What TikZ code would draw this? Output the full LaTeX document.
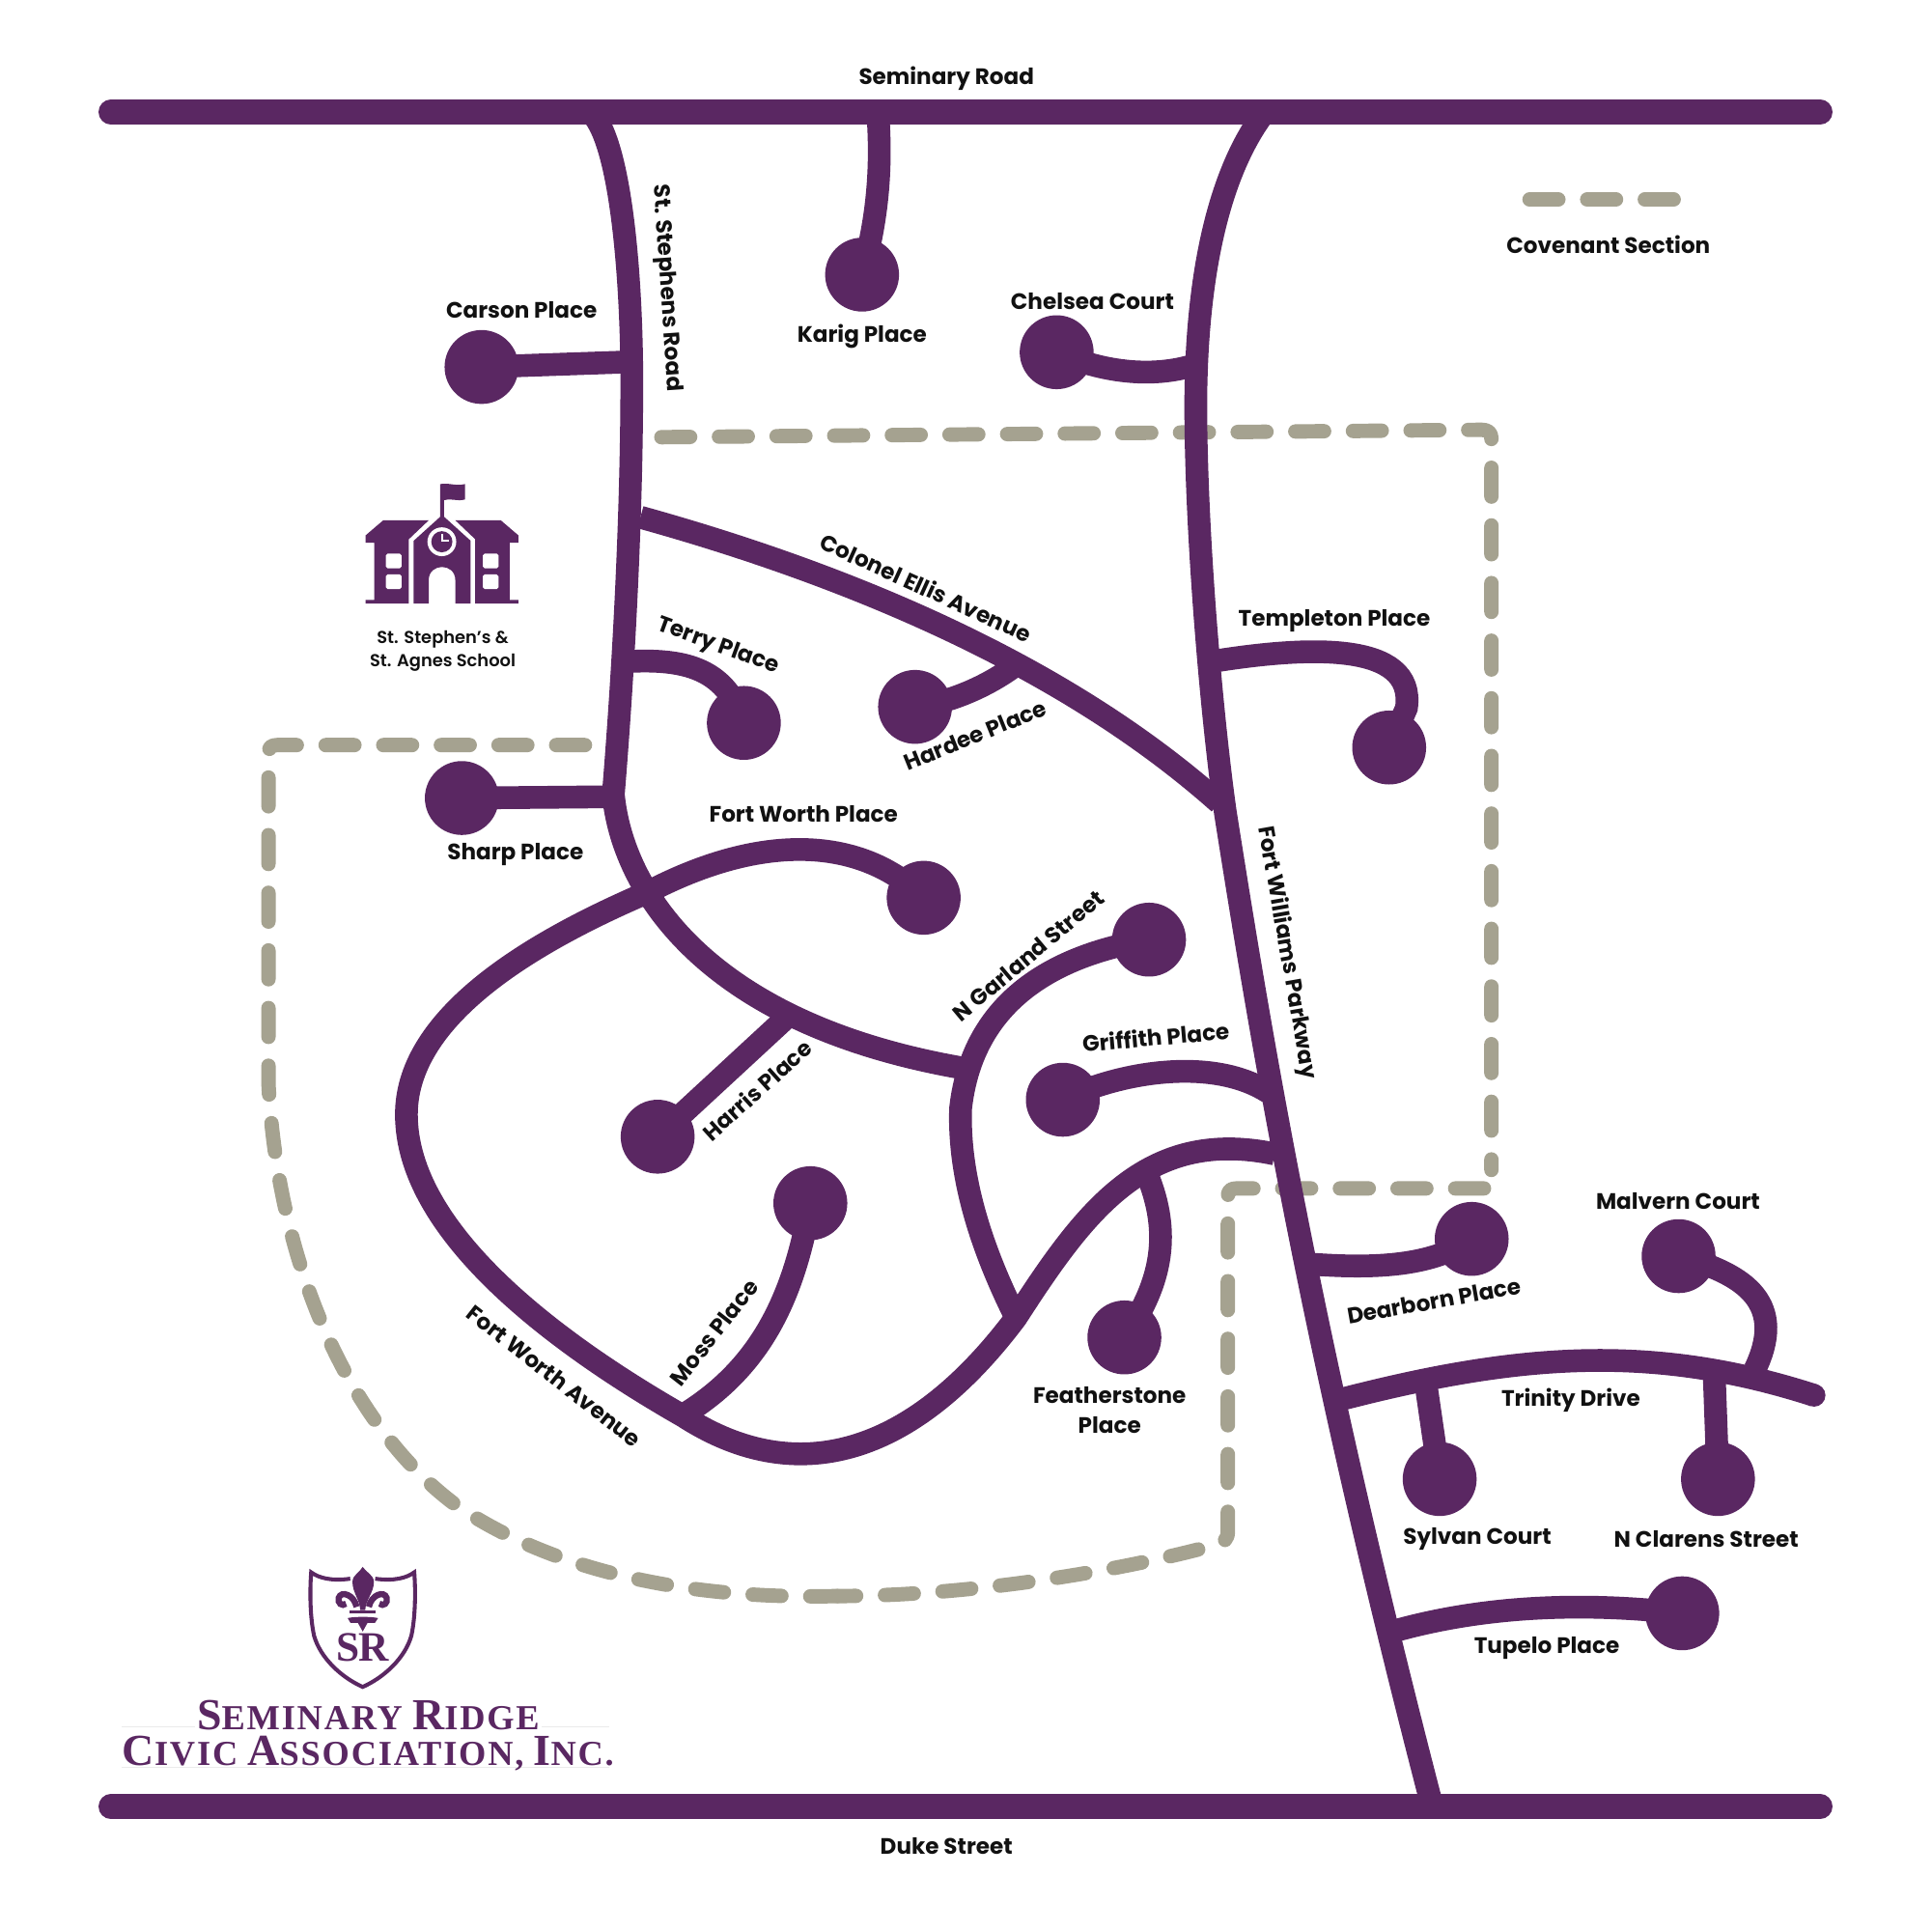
\documentclass[tikz,border=0pt]{standalone}
\usepackage{fontspec}
\setmainfont{Poppins}[UprightFont=* SemiBold,BoldFont=* Bold]
\newfontfamily\logofont{Liberation Serif}[UprightFont=* Bold,LetterSpace=5]
\definecolor{srpurple}{HTML}{5A2762}
\definecolor{srgrey}{HTML}{A5A290}
\definecolor{srtext}{HTML}{111111}
\newcommand{\smc}[2]{{\fontsize{#1}{#1}\selectfont #2}}
\tikzset{
  road/.style={draw=srpurple,line width=18.5pt},
  mainroad/.style={draw=srpurple,line width=20pt,line cap=round},
  dot/.style={circle,fill=srpurple,minimum size=60pt,inner sep=0pt},
  covenant/.style={draw=srgrey,line width=11.7pt,line cap=round,line join=round,dash pattern=on 23.4pt off 23.4pt},
  lab/.style={font=\bfseries\fontsize{18.1}{24}\selectfont,text=srtext,inner sep=0pt,align=center},
  smalllab/.style={font=\fontsize{14}{19}\selectfont,text=srtext,inner sep=0pt,align=center},
}
\begin{document}
\begin{tikzpicture}[x=1pt,y=-1pt]
\fill[white] (0,0) rectangle (1568,1568);
\useasboundingbox (0,0) rectangle (1568,1568);
% dots
\node[dot] (karig) at (700,223) {};
\node[dot] (carson) at (391,298) {};
\node[dot] (chelsea) at (858,286) {};
\node[dot] (templeton) at (1128,607) {};
\node[dot] (terry) at (604,587) {};
\node[dot] (hardee) at (743,574) {};
\node[dot] (sharp) at (375,648) {};
\node[dot] (fortworth) at (750,729) {};
\node[dot] (garland) at (933,763) {};
\node[dot] (griffith) at (863,893) {};
\node[dot] (harris) at (534,923) {};
\node[dot] (moss) at (658,977) {};
\node[dot] (feather) at (913,1086) {};
\node[dot] (dearborn) at (1195,1006) {};
\node[dot] (malvern) at (1363,1020) {};
\node[dot] (sylvan) at (1169,1201) {};
\node[dot] (clarens) at (1395,1201) {};
\node[dot] (tupelo) at (1366,1310) {};
% covenant dashes
\draw[covenant] (537,355) -- (1203,349) .. controls (1208,349) and (1211,351) .. (1211,356) -- (1211,950);
\draw[covenant] (1205,965) -- (1004,965) .. controls (999,965) and (997,967) .. (997,972) -- (997,1243) .. controls (997,1250) and (995,1252) .. (985,1255) .. controls (900,1278) and (780,1296) .. (680,1296);
\draw[covenant] (475,605) -- (225,605) .. controls (220,605) and (218,607) .. (218,612) -- (218,880) .. controls (225,1020) and (280,1155) .. (370,1222) .. controls (470,1290) and (600,1298) .. (680,1296);
\draw[covenant] (1242,162) -- (1364,162);
% roads
\draw[mainroad] (90,91) -- (1478,91);
\draw[mainroad] (90,1467) -- (1478,1467);
\draw[road] (483,95) .. controls (505,125) and (513,230) .. (513,310) .. controls (513,430) and (505,560) .. (498,645) .. controls (505,720) and (570,830) .. (780,867);
\draw[road] (1024,95) .. controls (985,150) and (970,240) .. (971,340) .. controls (972,450) and (985,590) .. (995,660) .. controls (1025,850) and (1065,1090) .. (1163,1467);
\draw[road] (520,420) .. controls (700,470) and (870,545) .. (990,652);
\draw[road] (513,537) .. controls (560,535) and (590,545) .. (terry.center);
\draw[road] (hardee.center) .. controls (775,570) and (805,555) .. (825,540);
\draw[road] (sharp.center) -- (495,647);
\draw[road] (carson.center) -- (507,294);
\draw[road] (karig.center) .. controls (712,180) and (716,140) .. (713,95);
\draw[road] (chelsea.center) .. controls (890,300) and (930,308) .. (968,297);
\draw[road] (985,537) .. controls (1060,525) and (1150,520) .. (1142,575) -- (templeton.center);
\draw[road] (fortworth.center) .. controls (700,680) and (620,675) .. (525,725) .. controls (420,770) and (330,830) .. (330,905) .. controls (330,1000) and (450,1090) .. (555,1150) .. controls (640,1205) and (735,1190) .. (825,1070) .. controls (880,985) and (930,915) .. (1035,937);
\draw[road] (garland.center) .. controls (860,775) and (790,810) .. (780,900) .. controls (778,960) and (800,1020) .. (825,1070);
\draw[road] (griffith.center) .. controls (910,870) and (985,858) .. (1030,887);
\draw[road] (harris.center) -- (640,825);
\draw[road] (moss.center) .. controls (645,1050) and (620,1110) .. (553,1150);
\draw[road] (feather.center) .. controls (945,1040) and (950,1000) .. (932,955);
\draw[road] (dearborn.center) .. controls (1160,1030) and (1110,1030) .. (1058,1026);
\draw[road] (1090,1136) .. controls (1230,1100) and (1340,1090) .. (1473,1133);
\fill[srpurple] (1473,1133) circle[radius=9.25];
\draw[road] (malvern.center) .. controls (1420,1035) and (1450,1060) .. (1425,1112);
\draw[road] (sylvan.center) -- (1158,1125);
\draw[road] (clarens.center) -- (1392,1118);
\draw[road] (tupelo.center) .. controls (1280,1300) and (1200,1305) .. (1130,1325);
% labels
\node[lab] (l1) at (768.5,64) {Seminary Road};
\node[lab] (l2) at (768.5,1499) {Duke Street};
\node[lab,rotate=-86] (l3) at (541,234) {St. Stephens Road};
\node[lab] (l4) at (700,273) {Karig Place};
\node[lab] (l5) at (423.5,251.5) {Carson Place};
\node[lab] (l6) at (887,245) {Chelsea Court};
\node[lab] (l7) at (1306,199) {Covenant Section};
\node[lab,rotate=-24.5] (l8) at (752,477) {Colonel Ellis Avenue};
\node[lab] (l9) at (1083.5,504) {Templeton Place};
\node[lab,rotate=-20] (l10) at (583,525) {Terry Place};
\node[lab,rotate=22] (l11) at (792,597) {Hardee Place};
\node[lab] (l12) at (652.5,661) {Fort Worth Place};
\node[lab] (l13) at (418.5,694) {Sharp Place};
\node[lab,rotate=-80] (l14) at (1044.5,773.5) {Fort Williams Parkway};
\node[lab,rotate=40] (l15) at (835,776) {N Garland Street};
\node[lab,rotate=5] (l16) at (938.5,842) {Griffith Place};
\node[lab,rotate=42] (l17) at (614.5,885) {Harris Place};
\node[lab,rotate=52] (l18) at (580,1082) {Moss Place};
\node[lab,rotate=-38] (l19) at (450,1117.5) {Fort Worth Avenue};
\node[lab] (l20) at (901,1145) {Featherstone\\Place};
\node[lab,rotate=10] (l21) at (1164.5,1056.5) {Dearborn Place};
\node[lab] (l22) at (1362.5,975) {Malvern Court};
\node[lab] (l23) at (1275.5,1137) {Trinity Drive};
\node[lab] (l24) at (1199.5,1250) {Sylvan Court};
\node[lab] (l25) at (1385.5,1250) {N Clarens Street};
\node[lab] (l26) at (1256,1338) {Tupelo Place};
\node[smalllab] (l27) at (359.5,528.5) {St. Stephen’s \&\\St. Agnes School};
% school icon
\begin{scope}[shift={(282.6,384)},scale=0.26]
\fill[srpurple] (55,195) -- (110,148) -- (252,148) -- (190,207) -- (190,408) -- (55,408) -- (55,397) -- (82,397) -- (82,218) -- (55,218) -- cycle;
\fill[srpurple] (532,195) -- (477,148) -- (335,148) -- (397,207) -- (397,408) -- (532,408) -- (532,397) -- (505,397) -- (505,218) -- (532,218) -- cycle;
\fill[srpurple] (205,408) -- (205,212) -- (288,137) -- (288,35) .. controls (315,30) and (335,42) .. (365,35) -- (365,83) .. controls (340,90) and (320,78) .. (300,85) -- (300,137) -- (383,212) -- (383,408) -- (335,408) -- (335,335) .. controls (335,280) and (252,280) .. (252,335) -- (252,408) -- cycle;
\fill[white] (293,215) circle[radius=45];
\fill[srpurple] (293,215) circle[radius=33];
\draw[white,line width=1.6pt] (293,190) -- (293,212) -- (315,212);
\foreach \wx in {118,421} {
  \fill[white,rounded corners=1.5pt] (\wx,252) rectangle ++(49,46);
  \fill[white,rounded corners=1.5pt] (\wx,317) rectangle ++(49,46);
}
\end{scope}
% logo shield
\begin{scope}[shift={(243.3,1271)},scale=0.26]
\draw[srpurple,line width=3.2pt,line join=miter] (158,42) .. controls (100,50) and (60,40) .. (36,22) .. controls (33,60) and (30,150) .. (45,220) .. controls (65,290) and (130,350) .. (197,380) .. controls (264,350) and (329,290) .. (349,220) .. controls (364,150) and (361,60) .. (358,22) .. controls (334,40) and (294,50) .. (236,42);
\fill[srpurple] (197,5) .. controls (205,20) and (232,30) .. (232,52) .. controls (232,85) and (205,110) .. (205,140) -- (189,140) .. controls (189,110) and (165,85) .. (165,52) .. controls (165,30) and (190,20) .. (197,5) -- cycle;
\draw[srpurple,line width=5pt] (178,130) .. controls (170,92) and (130,78) .. (122,102) .. controls (118,118) and (132,130) .. (145,120);
\draw[srpurple,line width=5pt] (216,130) .. controls (224,92) and (264,78) .. (272,102) .. controls (276,118) and (262,130) .. (249,120);
\fill[srpurple] (157,140) rectangle (237,150);
\fill[srpurple] (150,165) .. controls (170,160) and (225,160) .. (245,165) -- (235,180) -- (212,180) -- (197,207) -- (182,180) -- (159,180) -- cycle;
\node[font=\logofont\fontsize{34}{34}\selectfont,text=srpurple,inner sep=0pt] (sr) at (198,258) {\addfontfeature{LetterSpace=-3}SR};
\end{scope}
\draw[black!8,line width=.5pt] (99,1402) -- (495,1402);
\draw[black!8,line width=.5pt] (99,1435) -- (495,1435);
\node[font=\logofont,text=srpurple,inner sep=0pt,fill=white,inner xsep=2pt] (logo1) at (299,1393) {\smc{36}{S}\smc{28.5}{EMINARY}\hspace{5pt} \smc{36}{R}\smc{28.5}{IDGE}};
\node[font=\logofont,text=srpurple,inner sep=0pt] (logo2) at (299,1424) {\smc{36}{C}\smc{28.5}{IVIC}\hspace{5pt} \smc{36}{A}\smc{28.5}{SSOCIATION,}\hspace{5pt} \smc{36}{I}\smc{28.5}{NC.}};
\end{tikzpicture}
\end{document}
